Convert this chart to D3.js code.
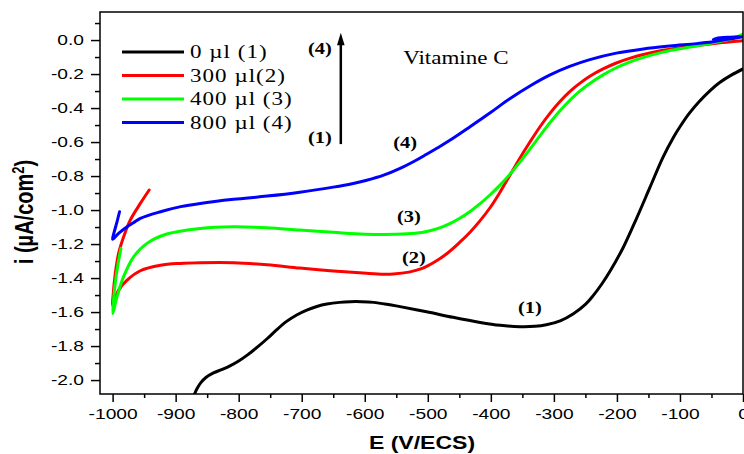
<!DOCTYPE html>
<html>
<head>
<meta charset="utf-8">
<script src="https://cdn.jsdelivr.net/npm/d3@7"></script>
<style>
  html, body { margin: 0; padding: 0; background: #ffffff; }
  svg { display: block; }
</style>
</head>
<body>
<svg id="chart" width="744" height="454"></svg>
<script>
// Cathodic polarisation curves i = f(E) with increasing additions of vitamin C.
// Each point is [E in mV vs ECS, i in µA/cm²].

// (1) 0 µl
const curve1 = [
  [-872, -2.10], [-866, -2.05], [-860, -2.015], [-852, -1.985], [-840, -1.958],
  [-826, -1.937], [-813, -1.915], [-800, -1.888], [-787, -1.855], [-770, -1.805],
  [-755, -1.757], [-740, -1.705], [-724, -1.655], [-708, -1.617], [-692, -1.588],
  [-676, -1.567], [-660, -1.553], [-640, -1.543], [-623, -1.539], [-605, -1.539],
  [-586, -1.543], [-565, -1.554], [-544, -1.568], [-502, -1.598], [-460, -1.631],
  [-417, -1.661], [-385, -1.678], [-354, -1.686], [-330, -1.684], [-312, -1.675],
  [-290, -1.652], [-269, -1.61], [-250, -1.555], [-238, -1.505], [-224, -1.435],
  [-211, -1.36], [-190, -1.22], [-169, -1.05], [-148, -0.87], [-127, -0.69],
  [-110, -0.57], [-100, -0.51], [-85, -0.43], [-69, -0.36], [-53, -0.30],
  [-37, -0.25], [-18, -0.205], [0, -0.17]
];

// (2) 300 µl
const curve2 = [
  [-942, -0.882], [-956, -0.961], [-972, -1.059], [-982.5, -1.157], [-990.5, -1.255],
  [-995.7, -1.372], [-999.4, -1.51], [-1000, -1.56],
  [-990.5, -1.471], [-977, -1.412], [-956, -1.357], [-924, -1.325], [-893, -1.314],
  [-861, -1.31], [-808, -1.31], [-755, -1.322], [-703, -1.341], [-650, -1.358],
  [-597, -1.372], [-570, -1.377], [-555, -1.376], [-530, -1.365], [-510, -1.345],
  [-490, -1.307], [-470, -1.257], [-450, -1.192], [-433, -1.13], [-417, -1.062],
  [-401, -0.985], [-385, -0.892], [-370, -0.797], [-354, -0.695], [-338, -0.60],
  [-322, -0.51], [-306, -0.43], [-290, -0.36], [-274, -0.30], [-258, -0.252],
  [-243, -0.213], [-222, -0.17], [-201, -0.135], [-180, -0.108], [-158, -0.085],
  [-127, -0.06], [-95, -0.042], [-63, -0.028], [-32, -0.015], [0, -0.004]
];

// (3) 400 µl
const curve3 = [
  [-986.7, -1.225], [-992, -1.33], [-996.5, -1.45], [-1000, -1.608],
  [-993, -1.51], [-982.6, -1.392], [-966.7, -1.275], [-945.5, -1.196], [-914, -1.141],
  [-861, -1.108], [-808, -1.098], [-755, -1.104], [-703, -1.118], [-650, -1.131],
  [-600, -1.142], [-550, -1.143], [-520, -1.137], [-500, -1.125], [-480, -1.103],
  [-465, -1.08], [-450, -1.05], [-433, -1.008], [-417, -0.962], [-401, -0.91],
  [-385, -0.852], [-370, -0.79], [-354, -0.718], [-338, -0.642], [-322, -0.562],
  [-306, -0.485], [-290, -0.415], [-274, -0.352], [-258, -0.298], [-243, -0.255],
  [-222, -0.205], [-201, -0.163], [-180, -0.13], [-158, -0.102], [-127, -0.071],
  [-95, -0.048], [-63, -0.028], [-32, -0.005], [-10, 0.018], [0, 0.035]
];

// (4) 800 µl
const curve4 = [
  [-989, -1.01], [-993, -1.069], [-997.3, -1.127], [-1000, -1.172],
  [-990.5, -1.137], [-977, -1.098], [-967, -1.075], [-956, -1.049], [-924, -1.01],
  [-892, -0.98], [-861, -0.961], [-808, -0.937], [-755, -0.918], [-703, -0.895],
  [-650, -0.865], [-620, -0.845], [-597, -0.825], [-570, -0.795], [-544, -0.755],
  [-520, -0.71], [-502, -0.672], [-485, -0.635], [-465, -0.59], [-433, -0.51],
  [-401, -0.428], [-370, -0.345], [-338, -0.27], [-306, -0.205], [-275, -0.155],
  [-243, -0.115], [-201, -0.077], [-158, -0.052], [-116, -0.035], [-74, -0.021],
  [-48, -0.01], [-25, 0.004], [0, 0.02],
  [-20, 0.017], [-42, 0.01], [-47, 0.003], [-35, -0.002]
];

const seriesData = [curve1, curve2, curve3, curve4];
const seriesNames = ["0 \u00b5l (1)", "300 \u00b5l(2)", "400 \u00b5l (3)", "800 \u00b5l (4)"];
const seriesColors = ["#000000", "#ff0000", "#00ff00", "#0000ff"];

const xTickValues = [-1000, -900, -800, -700, -600, -500, -400, -300, -200, -100, 0];
const xTickLabels = ["-1000", "-900", "-800", "-700", "-600", "-500", "-400", "-300", "-200", "-100", "0"];
const xMinorValues = [-950, -850, -750, -650, -550, -450, -350, -250, -150, -50];
const yTickValues = [-2.0, -1.8, -1.6, -1.4, -1.2, -1.0, -0.8, -0.6, -0.4, -0.2, 0.0];
const yTickLabels = ["-2.0", "-1.8", "-1.6", "-1.4", "-1.2", "-1.0", "-0.8", "-0.6", "-0.4", "-0.2", "0.0"];
const yMinorValues = [-1.9, -1.7, -1.5, -1.3, -1.1, -0.9, -0.7, -0.5, -0.3, -0.1, 0.1];

// Layout
const plot = { left: 100, right: 743, top: 12, bottom: 394 };
const SX = 1.28;               // horizontal stretch applied to all text
const SANS = "'Liberation Sans', Arial, sans-serif";
const SERIF = "'Liberation Serif', 'Times New Roman', serif";

const svg = d3.select("#chart");

const x = d3.scaleLinear().domain([-1020, 0]).range([plot.left, plot.right]);
const y = d3.scaleLinear().domain([-2.082, 0.165]).range([plot.bottom, plot.top]);

// Clip
svg.append("defs").append("clipPath").attr("id", "plotClip")
  .append("rect")
  .attr("x", plot.left).attr("y", plot.top)
  .attr("width", plot.right - plot.left).attr("height", plot.bottom - plot.top);

// Bottom axis: major + minor ticks
const gx = svg.append("g")
  .attr("transform", `translate(0,${plot.bottom})`)
  .call(d3.axisBottom(x).tickValues(xTickValues)
    .tickFormat((d, i) => xTickLabels[i]).tickSize(8).tickSizeOuter(0));
gx.attr("font-family", SANS).attr("font-size", 15);
gx.select(".domain").remove();
gx.selectAll("line").attr("stroke-width", 1.5);
gx.selectAll("text").attr("y", 25).attr("dy", null)
  .attr("transform", `scale(${SX},1)`).attr("fill", "#000");

const gxm = svg.append("g")
  .attr("transform", `translate(0,${plot.bottom})`)
  .call(d3.axisBottom(x).tickValues(xMinorValues).tickFormat("").tickSize(4).tickSizeOuter(0));
gxm.select(".domain").remove();
gxm.selectAll("line").attr("stroke-width", 1.5);

// Left axis: major + minor ticks
const gy = svg.append("g")
  .attr("transform", `translate(${plot.left},0)`)
  .call(d3.axisLeft(y).tickValues(yTickValues)
    .tickFormat((d, i) => yTickLabels[i]).tickSize(9).tickSizeOuter(0));
gy.attr("font-family", SANS).attr("font-size", 15);
gy.select(".domain").remove();
gy.selectAll("line").attr("stroke-width", 1.5);
gy.selectAll("text").attr("x", -12.5)
  .attr("transform", `scale(${SX},1)`).attr("fill", "#000");

const gym = svg.append("g")
  .attr("transform", `translate(${plot.left},0)`)
  .call(d3.axisLeft(y).tickValues(yMinorValues).tickFormat("").tickSize(5).tickSizeOuter(0));
gym.select(".domain").remove();
gym.selectAll("line").attr("stroke-width", 1.5);

// Curves
const line = d3.line()
  .x(d => x(d[0]))
  .y(d => y(d[1]))
  .curve(d3.curveCatmullRom.alpha(0.5));

svg.append("g").attr("clip-path", "url(#plotClip)")
  .selectAll("path")
  .data(seriesData)
  .join("path")
  .attr("d", line)
  .attr("fill", "none")
  .attr("stroke", (d, i) => seriesColors[i])
  .attr("stroke-width", 3)
  .attr("stroke-linejoin", "round")
  .attr("stroke-linecap", "round");

// Frame
svg.append("rect")
  .attr("x", plot.left).attr("y", plot.top)
  .attr("width", plot.right - plot.left).attr("height", plot.bottom - plot.top)
  .attr("fill", "none").attr("stroke", "#000").attr("stroke-width", 1.5);

// Text helper (stretched horizontally)
function addText(px, py, str, family, size, weight, anchor) {
  return svg.append("text")
    .attr("transform", `translate(${px},${py}) scale(${SX},1)`)
    .attr("font-family", family)
    .attr("font-size", size)
    .attr("font-weight", weight || "normal")
    .attr("text-anchor", anchor || "start")
    .attr("fill", "#000")
    .text(str);
}

// Legend
const legendX = 122, legendY = 52, legendStep = 23.5;
seriesNames.forEach((name, i) => {
  const ly = legendY + i * legendStep;
  svg.append("line")
    .attr("x1", legendX).attr("x2", legendX + 62)
    .attr("y1", ly).attr("y2", ly)
    .attr("stroke", seriesColors[i]).attr("stroke-width", 3);
  addText(legendX + 68, ly + 6, name, SERIF, 18, "normal")
    .attr("letter-spacing", 0.8);
});

// Arrow showing increasing concentration (1) -> (4)
const arrowE = -638;
svg.append("line")
  .attr("x1", x(arrowE)).attr("x2", x(arrowE))
  .attr("y1", y(-0.612)).attr("y2", y(0.0))
  .attr("stroke", "#000").attr("stroke-width", 2.5);
svg.append("path")
  .attr("d", `M${x(arrowE)},${y(0.043)} L${x(arrowE) - 3.8},${y(-0.03)} L${x(arrowE) + 3.8},${y(-0.03)} Z`)
  .attr("fill", "#000");
addText(x(-690), y(-0.082), "(4)", SERIF, 16, "bold");
addText(x(-690), y(-0.606), "(1)", SERIF, 16, "bold");

addText(x(-539), y(-0.141), "Vitamine C", SERIF, 18, "normal");

// Curve labels
addText(x(-555), y(-0.635), "(4)", SERIF, 16, "bold");
addText(x(-549), y(-1.071), "(3)", SERIF, 16, "bold");
addText(x(-541), y(-1.312), "(2)", SERIF, 16, "bold");
addText(x(-357), y(-1.606), "(1)", SERIF, 16, "bold");

// Axis titles
addText((plot.left + plot.right) / 2 + 0.5, 449, "E (V/ECS)", SANS, 18, "bold", "middle");

const yTitle = svg.append("text")
  .attr("transform", `translate(33,212) scale(${SX},1) rotate(-90)`)
  .attr("font-family", SANS).attr("font-size", 20).attr("font-weight", "bold")
  .attr("text-anchor", "middle").attr("fill", "#000");
yTitle.append("tspan").text("i (\u00b5A/com");
yTitle.append("tspan").attr("font-size", 13).attr("dy", -7).text("2");
yTitle.append("tspan").attr("dy", 7).text(")");
</script>
</body>
</html>
